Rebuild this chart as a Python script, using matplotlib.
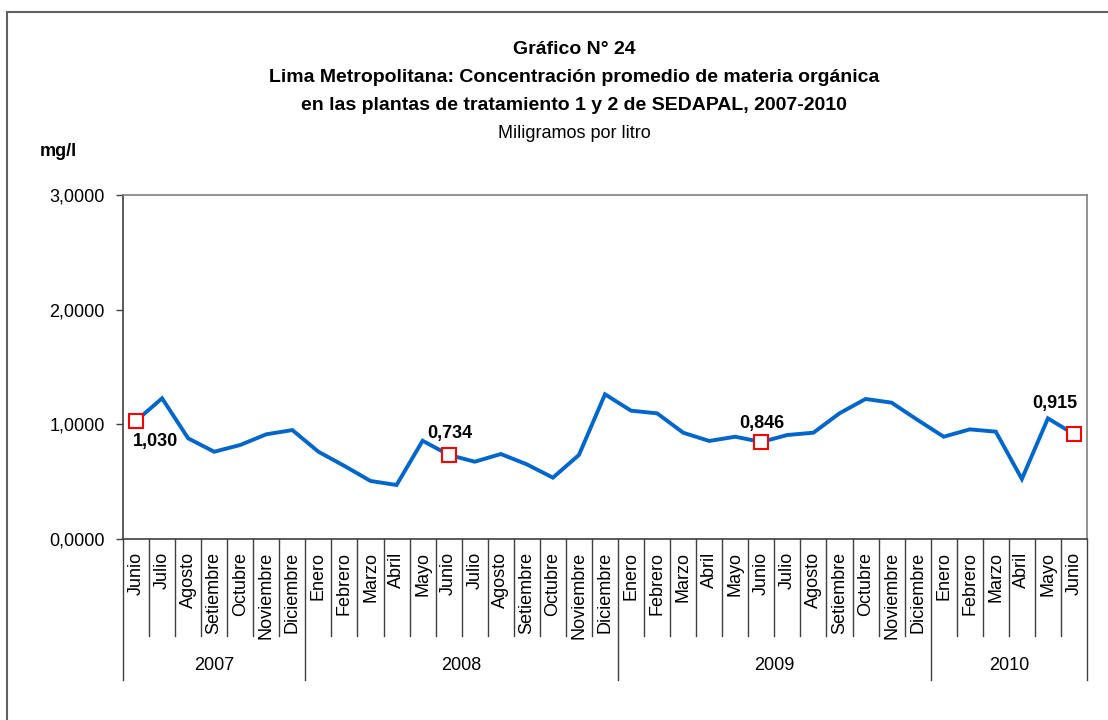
import matplotlib
matplotlib.use("Agg")
import matplotlib.pyplot as plt
from matplotlib.patches import Rectangle
from matplotlib.lines import Line2D

plt.rcParams['font.family'] = ['Liberation Sans Narrow', 'Liberation Sans', 'DejaVu Sans']

months = ["Junio", "Julio", "Agosto", "Setiembre", "Octubre", "Noviembre", "Diciembre",
          "Enero", "Febrero", "Marzo", "Abril", "Mayo", "Junio", "Julio", "Agosto", "Setiembre",
          "Octubre", "Noviembre", "Diciembre",
          "Enero", "Febrero", "Marzo", "Abril", "Mayo", "Junio", "Julio", "Agosto", "Setiembre",
          "Octubre", "Noviembre", "Diciembre",
          "Enero", "Febrero", "Marzo", "Abril", "Mayo", "Junio"]
years = ["2007", "2008", "2009", "2010"]
year_counts = [7, 12, 12, 6]
values = [1.030, 1.227, 0.878, 0.761, 0.820, 0.913, 0.950,
          0.761, 0.637, 0.506, 0.471, 0.857, 0.734, 0.674, 0.741, 0.651, 0.535, 0.733, 1.262,
          1.119, 1.096, 0.927, 0.855, 0.892, 0.846, 0.907, 0.927, 1.096, 1.221, 1.189, 1.038,
          0.892, 0.956, 0.936, 0.523, 1.052, 0.915]
marked_idx = [0, 12, 24, 36]
marked_labels = ["1,030", "0,734", "0,846", "0,915"]
yticks = [0, 1, 2, 3]
ytick_labels = ["0,0000", "1,0000", "2,0000", "3,0000"]

W, H = 1108, 720
fig = plt.figure(figsize=(W / 100, H / 100), dpi=100)
ax = fig.add_axes([123 / W, 1 - 539 / H, (1087 - 123) / W, (539 - 195) / H])

x = list(range(len(values)))
ax.plot(x, values, color="#0066CC", lw=2.8, solid_joinstyle="miter", zorder=3)
ax.plot([x[i] for i in marked_idx], [values[i] for i in marked_idx], ls="none",
        marker="s", ms=10, mfc="white", mec="#FF0000", mew=1.5, zorder=4)

# data labels
offsets = [(14, -9, "top"), (1, 9, "bottom"), (0, 7, "bottom"), (-14, 16, "bottom")]
for i, lab, (dx, dy, va) in zip(marked_idx, marked_labels, offsets):
    ax.annotate(lab, (x[i], values[i]), xytext=(dx, dy), textcoords="offset points",
                ha="center", va=va, fontsize=13, fontweight="bold", color="black")

ax.set_xlim(-0.5, len(values) - 0.5)
ax.set_ylim(0, 3)
ax.set_yticks(yticks)
ax.set_yticklabels(ytick_labels, fontsize=13)
ax.tick_params(axis="y", direction="out", length=5, width=1, color="#404040", pad=8)
ax.set_xticks([])

for s in ["top", "right"]:
    ax.spines[s].set_color("#808080")
    ax.spines[s].set_linewidth(1.2)
ax.spines["left"].set_color("#404040")
ax.spines["bottom"].set_color("#404040")
ax.spines["left"].set_linewidth(1.2)
ax.spines["bottom"].set_linewidth(1.2)

axh = 539 - 195
month_bottom = -(636 - 539) / axh
year_bottom = -(680 - 539) / axh
trans = ax.get_xaxis_transform()

# month separators and labels
year_bounds = [-0.5]
for c in year_counts:
    year_bounds.append(year_bounds[-1] + c)
for k in range(len(values) + 1):
    xb = k - 0.5
    yb = year_bottom if xb in year_bounds else month_bottom
    ax.add_line(Line2D([xb, xb], [0, yb], transform=trans, color="#404040", lw=1.0, clip_on=False))
for i, m in enumerate(months):
    ax.text(i, -13 / axh, m, transform=trans, rotation=90, ha="center", va="top", fontsize=13)

for j, yr in enumerate(years):
    xc = (year_bounds[j] + year_bounds[j + 1]) / 2
    ax.text(xc, -(665 - 539) / axh, yr, transform=trans, ha="center", va="center", fontsize=13)

# titles
fig.text(0.518, 1 - 50 / H, "Gráfico N° 24", ha="center", va="center", fontsize=14, fontweight="bold")
fig.text(0.518, 1 - 78 / H, "Lima Metropolitana: Concentración promedio de materia orgánica",
         ha="center", va="center", fontsize=14, fontweight="bold")
fig.text(0.518, 1 - 105 / H, "en las plantas de tratamiento 1 y 2 de SEDAPAL, 2007-2010",
         ha="center", va="center", fontsize=14, fontweight="bold")
fig.text(0.518, 1 - 133 / H, "Miligramos por litro", ha="center", va="center", fontsize=13)
fig.text(40 / W, 1 - 151 / H, "mg/l", ha="left", va="center", fontsize=13, fontweight="bold")

# outer frame
fig.patches.append(Rectangle((7 / W, -0.01), 1.0, 1 - 12 / H + 0.01, transform=fig.transFigure,
                             fill=False, edgecolor="#606060", lw=1.5))

fig.savefig("out.png", dpi=100)
